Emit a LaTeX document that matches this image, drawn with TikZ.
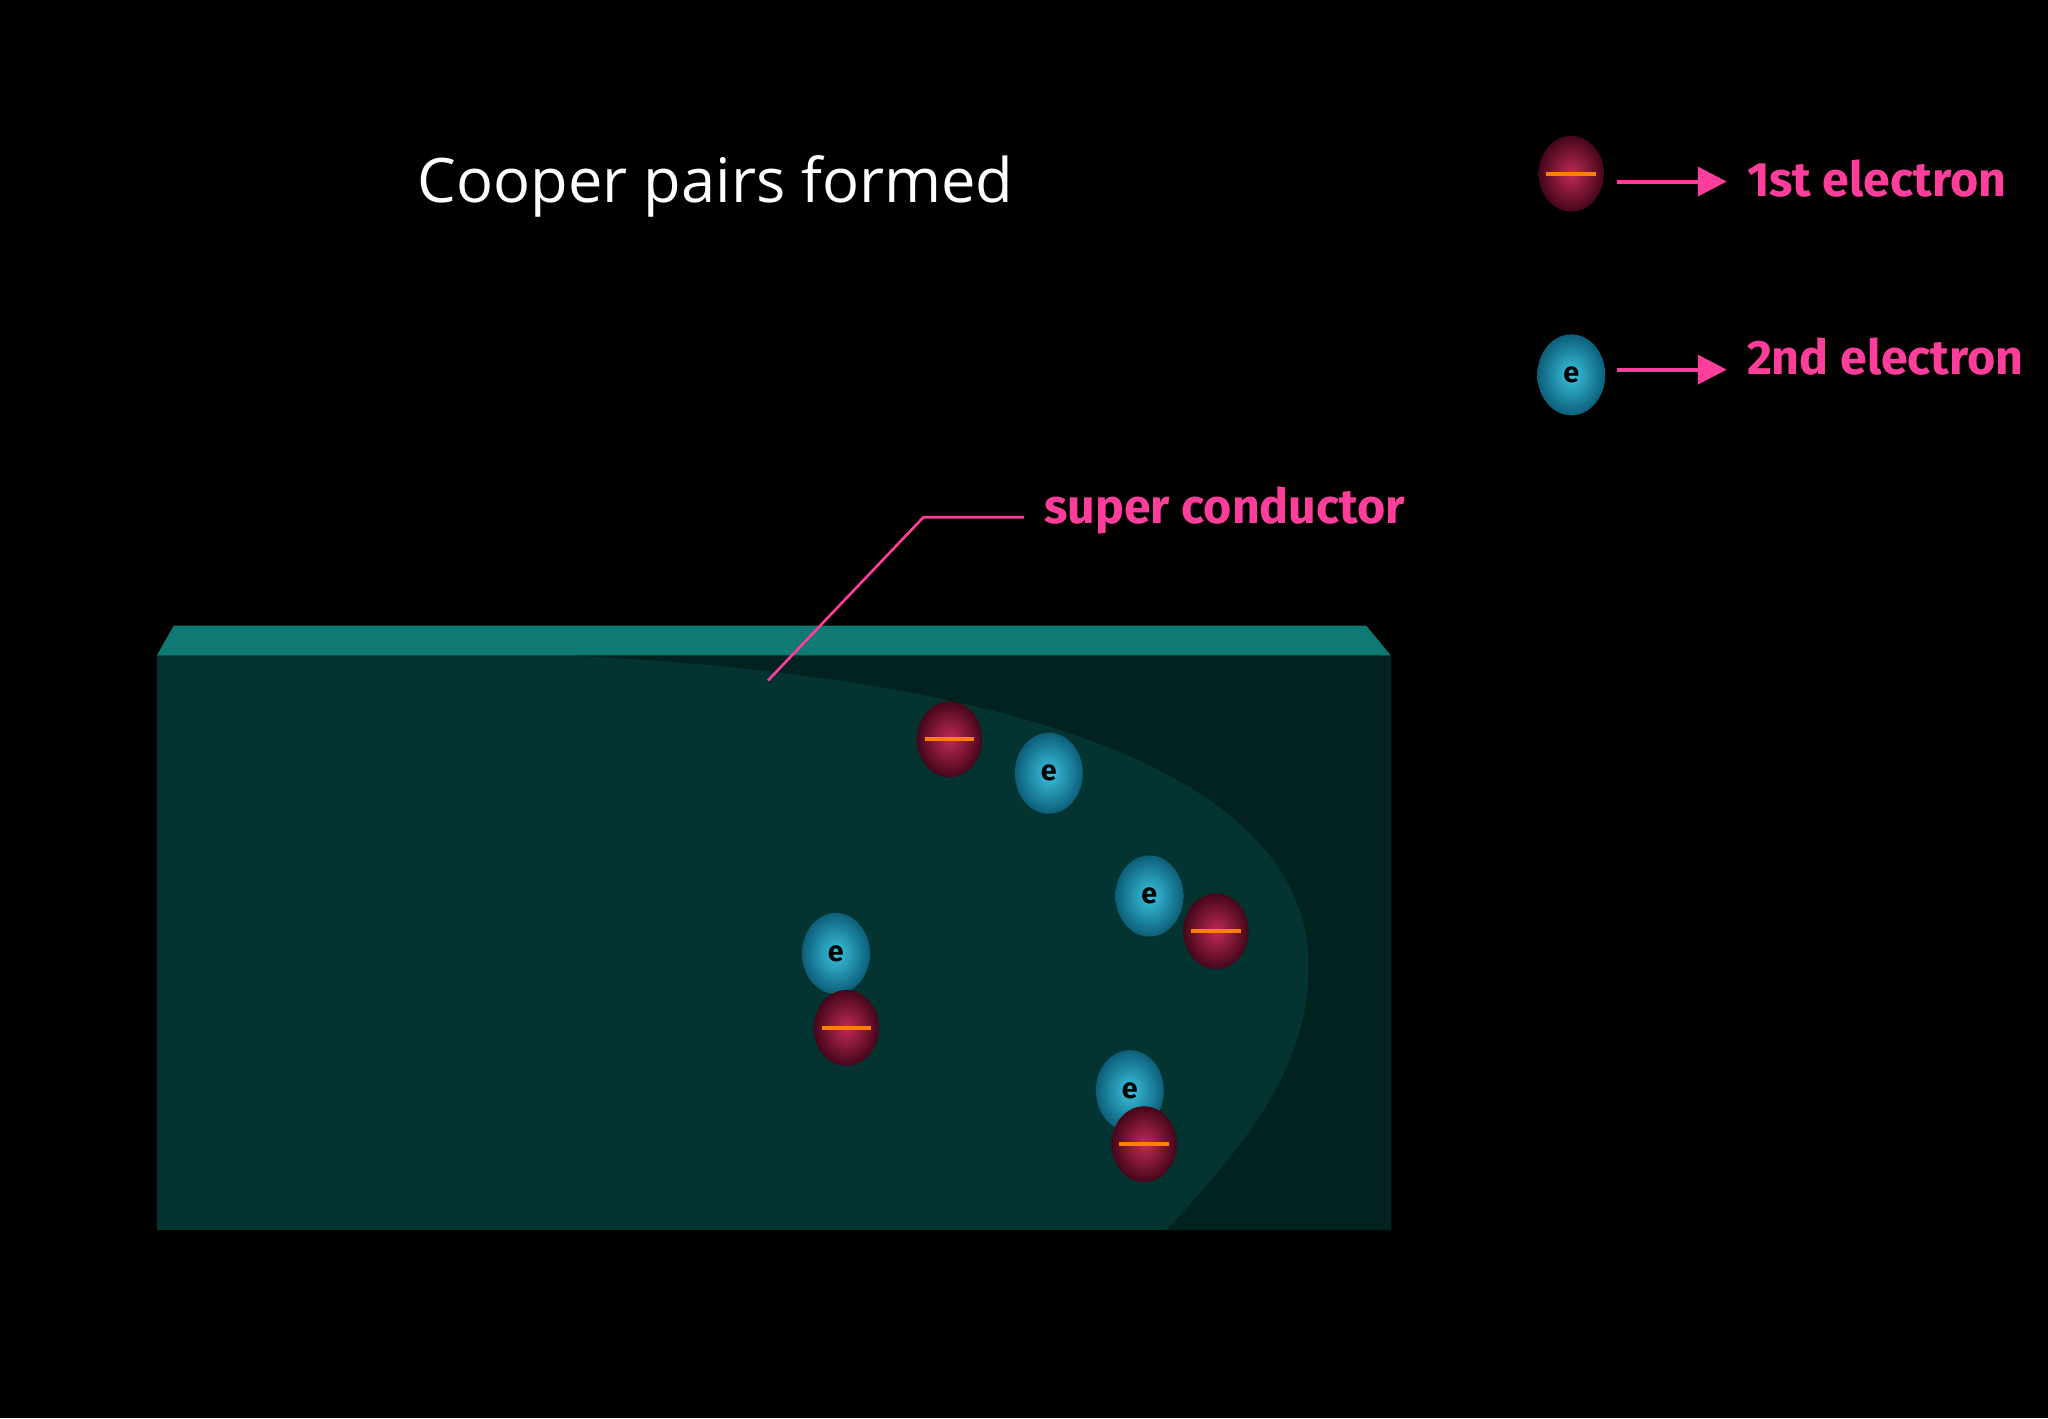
\documentclass[tikz,border=0pt]{standalone}
\usepackage{fontspec}
\setmainfont{Open Sans}
\newfontfamily\hand{Fira Sans}
\definecolor{pinkc}{HTML}{FF3D9A}
\definecolor{topc}{HTML}{0E7A73}
\definecolor{frontc}{HTML}{033432}
\definecolor{darkc}{HTML}{02221F}
\definecolor{redin}{HTML}{C02A55}
\definecolor{redout}{HTML}{45061A}
\definecolor{bluein}{HTML}{3BC3E0}
\definecolor{blueout}{HTML}{0C5F7A}
\tikzset{
 redel/.style={ellipse,minimum width=50pt,minimum height=58pt,inner sep=0pt,shading=radial,inner color=redin,outer color=redout},
 blueel/.style={ellipse,minimum width=52pt,minimum height=62pt,inner sep=0pt,shading=radial,inner color=bluein,outer color=blueout,font=\hand\bfseries\fontsize{22}{22}\selectfont,text=black},
 lbl/.style={text=pinkc,font=\hand\bfseries\fontsize{37}{37}\selectfont},
 parr/.style={draw=pinkc,line width=3pt,-{Triangle[length=22pt,width=22pt]}}
}
\usetikzlibrary{shapes.geometric,arrows.meta}
\newcommand{\minusbar}[1]{\draw[orange,line width=3pt] ([xshift=-19pt]#1.center) -- ([xshift=19pt]#1.center);}
\begin{document}
\begin{tikzpicture}[x=1pt,y=-1pt]
\fill[black] (0,0) rectangle (1568,1086);
\useasboundingbox (0,0) rectangle (1568,1086);
\node[text=white,font=\fontsize{47}{47}\selectfont] (title) at (548,143) {Cooper pairs formed};
% slab
\fill[topc] (120,502) -- (133,479) -- (1046,479) -- (1065,502) -- cycle;
\fill[frontc] (120,502) rectangle (1065,942);
\fill[darkc] (440,502) .. controls (800,520) and (1002,600) .. (1002,740) .. controls (1002,820) and (950,880) .. (893,942) -- (1065,942) -- (1065,502) -- cycle;
% label
\coordinate (lp) at (588,521);
\coordinate (lk) at (707,396);
\node[lbl,anchor=west] (sc) at (796,391) {super conductor};
\draw[pinkc,line width=2pt] (lp) -- (lk) -- (784,396);
% electrons
\node[blueel] (b1) at (803,592) {e};
\node[blueel] (b2) at (880,686) {e};
\node[blueel] (b3) at (640,730) {e};
\node[blueel] (b4) at (865,835) {e};
\node[redel] (r1) at (727,566) {}; \minusbar{r1}
\node[redel] (r2) at (931,713) {}; \minusbar{r2}
\node[redel] (r3) at (648,787) {}; \minusbar{r3}
\node[redel] (r4) at (876,876) {}; \minusbar{r4}
% legend
\node[redel] (lr) at (1203,133) {}; \minusbar{lr}
\node[lbl,anchor=west] (t1) at (1334,137) {1st electron};
\draw[parr] (1238,139) -- (1322,139);
\node[blueel] (lb) at (1203,287) {e};
\node[lbl,anchor=west] (t2) at (1334,273) {2nd electron};
\draw[parr] (1238,283) -- (1322,283);
\end{tikzpicture}
\end{document}
